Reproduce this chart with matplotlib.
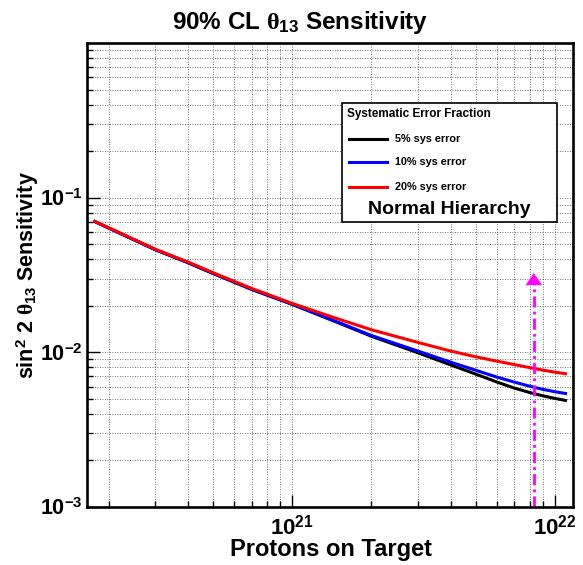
import matplotlib
matplotlib.use('Agg')
import matplotlib.pyplot as plt
import numpy as np
from matplotlib.ticker import LogLocator, NullFormatter, FixedLocator, FixedFormatter
from matplotlib.patches import Rectangle
from matplotlib.lines import Line2D

# ---------------- data ----------------
pot = [1.75e20, 3e20, 4e20, 5e20, 7e20, 1e21, 1.5e21, 2e21, 3e21, 4e21, 5e21,
       6e21, 7e21, 8e21, 9e21, 1e22, 1.11e22]
sens_5 = [0.0707, 0.0462, 0.0380, 0.0323, 0.0255, 0.0204, 0.0155, 0.0127, 0.00995, 0.00830, 0.00722,
          0.00643, 0.00587, 0.00550, 0.00523, 0.00503, 0.00487]
sens_10 = [0.0707, 0.0462, 0.0381, 0.0324, 0.0256, 0.0205, 0.0156, 0.01285, 0.0102, 0.00865, 0.00765,
           0.00692, 0.00642, 0.00604, 0.00576, 0.00556, 0.00540]
sens_20 = [0.0710, 0.0465, 0.0384, 0.0327, 0.0259, 0.0207, 0.0164, 0.0140, 0.0116, 0.0102, 0.00935,
           0.00877, 0.00833, 0.00797, 0.00767, 0.00744, 0.00725]
series = [sens_5, sens_10, sens_20]
series_labels = ['5% sys error', '10% sys error', '20% sys error']
series_colors = ['#000000', '#0000ff', '#ff0000']
legend_title = 'Systematic Error Fraction'
legend_note = 'Normal Hierarchy'
x_major_ticks = [1e21, 1e22]
x_tick_labels = [r'$10^{21}$', r'$10^{22}$']
y_major_ticks = [1e-3, 1e-2, 1e-1]
y_tick_labels = [r'$10^{-3}$', r'$10^{-2}$', r'$10^{-1}$']
arrow_pot = 8.3e21
arrow_y = [1e-3, 0.0276, 0.0325]   # start, head base, tip

plt.rcParams.update({
    'font.family': ['Liberation Sans', 'DejaVu Sans'],
    'font.weight': 'bold',
    'mathtext.fontset': 'custom',
    'mathtext.rm': 'Liberation Sans:bold',
    'mathtext.bf': 'Liberation Sans:bold',
    'mathtext.it': 'Liberation Serif',
    'mathtext.default': 'it',
})

W, H = 583, 565
fig = plt.figure(figsize=(W / 100, H / 100), dpi=100)
ax = fig.add_axes([87 / W, 58 / H, 486 / W, 464 / H])
ax.set_xscale('log')
ax.set_yscale('log')
ax.set_xlim(1.654e20, 1.17e22)
ax.set_ylim(1e-3, 1)

ax.xaxis.set_major_locator(FixedLocator(x_major_ticks))
ax.xaxis.set_major_formatter(FixedFormatter(x_tick_labels))
ax.yaxis.set_major_locator(FixedLocator(y_major_ticks))
ax.yaxis.set_major_formatter(FixedFormatter(y_tick_labels))
for a in (ax.xaxis, ax.yaxis):
    a.set_minor_locator(LogLocator(base=10, subs=np.arange(2, 10), numticks=100))
    a.set_minor_formatter(NullFormatter())

ax.tick_params(which='both', direction='in', top=False, right=False, width=1.0, color='black')
ax.tick_params(which='major', length=9)
ax.tick_params(which='minor', length=4.5)
ax.tick_params(axis='x', which='major', pad=6, labelsize=16)
ax.tick_params(axis='y', which='major', pad=3, labelsize=15.5)

# grid (major + minor, dotted)
ax.grid(True, which='both', color='0.25', linestyle=(0, (1, 2)), linewidth=0.6)
ax.set_axisbelow(True)
for s in ax.spines.values():
    s.set_linewidth(1.9)
    s.set_zorder(5)

# curves
for y, c, lab in zip(series, series_colors, series_labels):
    ax.plot(pot, y, color=c, lw=2.2, label=lab, zorder=3, solid_capstyle='butt',
            solid_joinstyle='round')

# magenta arrow
ax.plot([arrow_pot, arrow_pot], [arrow_y[0], arrow_y[1]], color='#ff00ff', lw=2.0,
        linestyle=(0, (4, 1.5, 1, 1.5)), zorder=4)
ax.annotate('', xy=(arrow_pot, arrow_y[2]), xytext=(arrow_pot, arrow_y[1]),
            arrowprops=dict(arrowstyle='-|>,head_length=0.8,head_width=0.55',
                            color='#ff00ff', lw=0.5, shrinkA=0, shrinkB=0), zorder=4)

# texts
def fx(px):
    return px / W

def fy(py):
    return 1 - py / H

fig.text(fx(300), fy(28.5), r'90% CL $\theta_{13}$ Sensitivity', ha='center', va='baseline',
         fontsize=17.5, fontweight='bold')
fig.text(fx(331), fy(556), 'Protons on Target', ha='center', va='baseline',
         fontsize=17, fontweight='bold')
fig.text(fx(28), fy(275), r'sin$^{2}$ 2 $\theta_{13}$ Sensitivity', ha='center', va='center',
         rotation=90, fontsize=15.5, fontweight='bold')

# legend box
lx0, lx1, ly0, ly1 = 341.7, 556.7, 102.7, 222.0
fig.patches.append(Rectangle((fx(lx0), fy(ly1)), fx(lx1) - fx(lx0), fy(ly0) - fy(ly1),
                             transform=fig.transFigure, facecolor='white', edgecolor='black',
                             lw=1.2, zorder=10))
fig.text(fx(346.7), fy(114.3), legend_title, ha='left', va='center', fontsize=8.5,
         fontweight='bold', zorder=11)
for yy, c, lab in zip([139, 162.3, 186.7], series_colors, series_labels):
    fig.lines.append(Line2D([fx(349.3), fx(387.3)], [fy(yy), fy(yy)], color=c, lw=2.2,
                            transform=fig.transFigure, zorder=11))
    fig.text(fx(395), fy(yy), lab, ha='left', va='center', fontsize=7.8,
             fontweight='bold', zorder=11)
fig.text(fx(449), fy(209), legend_note, ha='center', va='center', fontsize=14,
         fontweight='bold', zorder=11)

fig.savefig('out.png', dpi=100)
